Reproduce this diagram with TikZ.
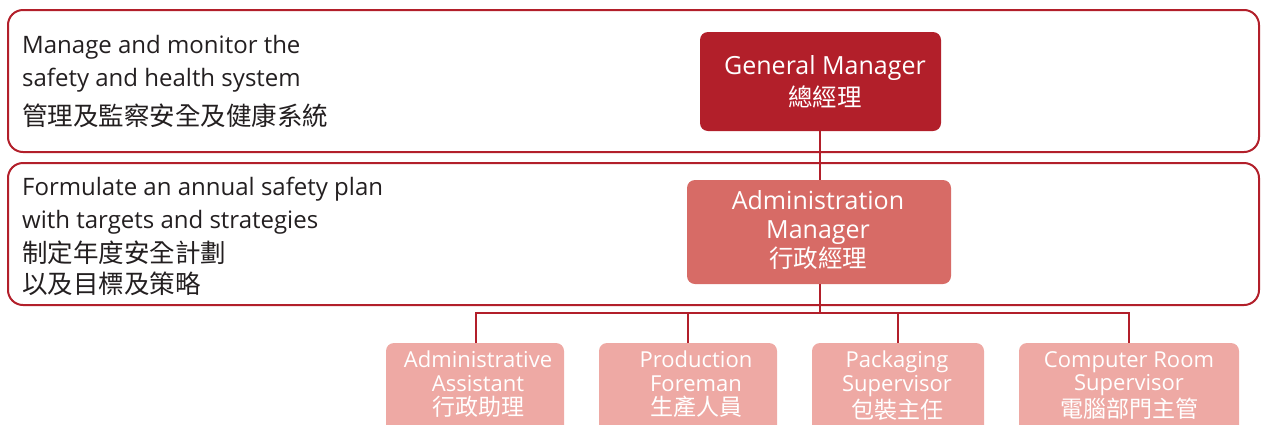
\documentclass[tikz,border=0pt]{standalone}
\usepackage{fontspec}
\setmainfont{Open Sans}
\newfontfamily\cjk{Noto Sans CJK TC}
\definecolor{dkred}{HTML}{B21F2A}
\definecolor{midred}{HTML}{D76B66}
\definecolor{ltred}{HTML}{EEA9A4}
\definecolor{txt}{HTML}{231F20}
\tikzset{
  frame/.style={draw=dkred, line width=2pt, rounded corners=15pt},
  gmbox/.style={fill=dkred, rounded corners=8pt},
  ambox/.style={fill=midred, rounded corners=8pt},
  subbox/.style={fill=ltred, rounded corners=8pt},
  conn/.style={draw=dkred, line width=2pt},
  lbl/.style={text=white, align=center, inner sep=0pt},
  side/.style={text=txt, align=left, anchor=north west, inner sep=0pt},
}
\newcommand{\cjkA}{\cjk\fontsize{25.5}{33}\selectfont}
\newcommand{\cjkB}{\cjk\fontsize{23}{25}\selectfont}
\begin{document}
\begin{tikzpicture}[x=1pt,y=-1pt]
\useasboundingbox (0,0) rectangle (1261,424);
\clip (0,0) rectangle (1261,424);
% frames
\draw[frame] (8,10) rectangle (1259,152);
\draw[frame] (8,163) rectangle (1259,305);
% side texts
\node[side, font=\fontsize{24}{33}\selectfont] (t1) at (22,35)
  {Manage and monitor the\\ safety and health system\\[6pt] {\cjkA 管理及監察安全及健康系統}};
\node[side, font=\fontsize{24}{33}\selectfont] (t2) at (22,177)
  {Formulate an annual safety plan\\ with targets and strategies\\[1pt] {\cjkA 制定年度安全計劃}\\[-2pt] {\cjkA 以及目標及策略}};
% boxes
\path[gmbox] (700,32) rectangle (941,131);
\coordinate (gmc) at (825,81.5);
\node[lbl, font=\fontsize{25}{32}\selectfont] (gm) at (gmc) {General Manager\\ {\cjk\fontsize{24.5}{32}\selectfont 總經理}};
\path[ambox] (687,180) rectangle (951,284);
\coordinate (amc) at (818,230);
\node[lbl, font=\fontsize{25}{29}\selectfont] (am) at (amc) {Administration\\ Manager\\ {\cjk\fontsize{24.5}{29}\selectfont 行政經理}};
\coordinate (gmb) at (820,131);
\coordinate (amt) at (820,180);
\coordinate (amb) at (820,284);
\coordinate (bar) at (820,313);
\draw[conn] (gmb) -- (amt);
\draw[conn] (amb) -- (bar);
% sub boxes
\path[subbox] (386,343) rectangle (564,440);
\path[subbox] (599,343) rectangle (777,440);
\path[subbox] (812,343) rectangle (984,440);
\path[subbox] (1019,343) rectangle (1239,440);
\tikzset{subl/.style={lbl, font=\fontsize{22}{23.5}\selectfont, anchor=north}}
\node[subl] (s1) at (478,351) {Administrative\\ Assistant\\[1pt] {\cjkB 行政助理}};
\node[subl] (s2) at (696,351) {Production\\ Foreman\\[1pt] {\cjkB 生產人員}};
\node[subl] (s3) at (897,351) {Packaging\\ Supervisor\\[1pt] {\cjkB 包裝主任}};
\node[subl] (s4) at (1129,351) {Computer Room\\ Supervisor\\[1pt] {\cjkB 電腦部門主管}};
\coordinate (d1) at (476,343);
\coordinate (d2) at (688,343);
\coordinate (d3) at (898,343);
\coordinate (d4) at (1129,343);
\draw[conn] (d1) |- (bar) -| (d4);
\draw[conn] (d2) -- (d2 |- bar);
\draw[conn] (d3) -- (d3 |- bar);
\end{tikzpicture}
\end{document}
